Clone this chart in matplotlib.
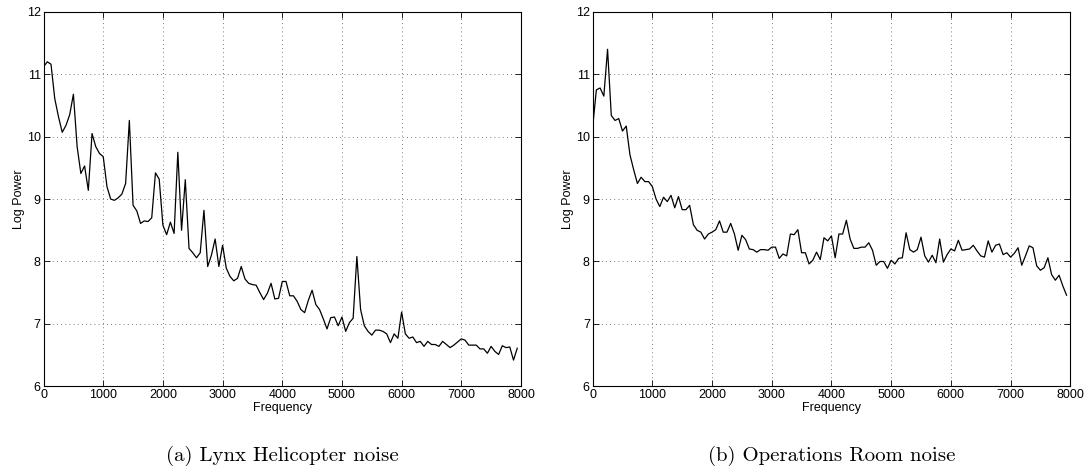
import numpy as np
import matplotlib
matplotlib.use('Agg')
import matplotlib.pyplot as plt

# frequency bins: 128 points, 62.5 Hz apart
freq = np.arange(128) * 62.5

# (a) Lynx Helicopter noise, log power
lynx = [11.12, 11.20, 11.16, 10.61, 10.32, 10.07, 10.18, 10.35, 10.68, 9.84,
        9.41, 9.53, 9.14, 10.05, 9.84, 9.73, 9.68, 9.20, 9.00, 8.98,
        9.02, 9.08, 9.25, 10.26, 8.90, 8.81, 8.61, 8.65, 8.64, 8.70,
        9.42, 9.32, 8.58, 8.43, 8.63, 8.45, 9.75, 8.50, 9.31, 8.21,
        8.14, 8.06, 8.14, 8.82, 7.92, 8.10, 8.36, 7.92, 8.26, 7.89,
        7.76, 7.69, 7.73, 7.92, 7.72, 7.65, 7.63, 7.62, 7.50, 7.39,
        7.49, 7.65, 7.40, 7.41, 7.68, 7.68, 7.45, 7.45, 7.36, 7.23,
        7.18, 7.38, 7.54, 7.31, 7.23, 7.08, 6.92, 7.10, 7.11, 6.97,
        7.11, 6.88, 7.02, 7.09, 8.08, 7.23, 6.97, 6.88, 6.82, 6.90,
        6.90, 6.88, 6.84, 6.70, 6.84, 6.77, 7.19, 6.84, 6.77, 6.79,
        6.70, 6.72, 6.64, 6.72, 6.67, 6.67, 6.64, 6.72, 6.67, 6.62,
        6.66, 6.71, 6.76, 6.74, 6.66, 6.66, 6.66, 6.60, 6.60, 6.53,
        6.64, 6.56, 6.51, 6.65, 6.62, 6.63, 6.42, 6.61]

# (b) Operations Room noise
opsroom = [10.15, 10.75, 10.78, 10.65, 11.40, 10.34, 10.26, 10.29, 10.09, 10.17,
           9.71, 9.47, 9.25, 9.35, 9.28, 9.28, 9.20, 9.00, 8.88, 9.03,
           8.96, 9.06, 8.86, 9.04, 8.83, 8.83, 8.90, 8.59, 8.50, 8.47,
           8.36, 8.44, 8.47, 8.51, 8.65, 8.47, 8.47, 8.61, 8.44, 8.18,
           8.42, 8.35, 8.20, 8.19, 8.15, 8.19, 8.19, 8.18, 8.23, 8.23,
           8.05, 8.12, 8.09, 8.44, 8.43, 8.51, 8.14, 8.14, 7.96, 8.02,
           8.15, 8.03, 8.38, 8.33, 8.41, 8.06, 8.44, 8.44, 8.66, 8.36,
           8.21, 8.21, 8.23, 8.23, 8.30, 8.18, 7.94, 8.00, 8.00, 7.89,
           8.02, 7.96, 8.05, 8.06, 8.46, 8.19, 8.15, 8.19, 8.39, 8.09,
           7.99, 8.10, 7.98, 8.36, 7.99, 8.11, 8.20, 8.17, 8.34, 8.18,
           8.19, 8.20, 8.26, 8.17, 8.09, 8.07, 8.33, 8.15, 8.26, 8.28,
           8.11, 8.14, 8.07, 8.13, 8.22, 7.94, 8.09, 8.25, 8.22, 7.93,
           7.86, 7.90, 8.06, 7.79, 7.70, 7.78, 7.61, 7.46]

captions = ['(a) Lynx Helicopter noise', '(b) Operations Room noise']
xticks = [0, 1000, 2000, 3000, 4000, 5000, 6000, 7000, 8000]
yticks = [6, 7, 8, 9, 10, 11, 12]

plt.rcParams['font.family'] = ['Liberation Sans', 'DejaVu Sans']

fig = plt.figure(figsize=(10.89, 4.74), dpi=100)
axes = [fig.add_axes([0.040, 0.185, 0.4384, 0.790]),
        fig.add_axes([0.5442, 0.185, 0.4386, 0.790])]

for ax, data, cap in zip(axes, [lynx, opsroom], captions):
    ax.plot(freq, data, color='black', linewidth=0.9)
    ax.set_xlim(0, 8000)
    ax.set_ylim(6, 12)
    ax.set_xticks(xticks)
    ax.set_yticks(yticks)
    ax.tick_params(direction='in', top=True, right=True, labelsize=9,
                   length=4, width=0.6, pad=2)
    ax.grid(True, linestyle=(0, (1, 4)), color='#555555', linewidth=0.6)
    for s in ax.spines.values():
        s.set_linewidth(0.8)
    ax.set_xlabel('Frequency', fontsize=9, labelpad=1)
    ax.set_ylabel('Log Power', fontsize=9, labelpad=1)
    bb = ax.get_position()
    fig.text(bb.x0 + bb.width / 2, 0.038, cap, ha='center', va='center',
             family='cmr10', fontsize=15)

fig.savefig('out.png', dpi=100)
